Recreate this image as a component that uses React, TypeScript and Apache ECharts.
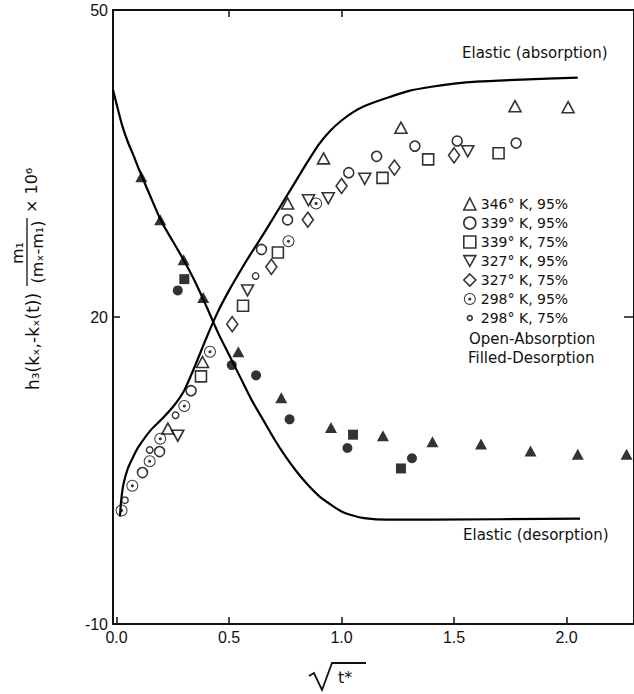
import React, { useEffect, useRef } from "react";
import * as echarts from "echarts";

// ---- data ----
const xTickValues = [0, 0.5, 1.0, 1.5, 2.0];
const yTickValues = [-10, 20, 50];

const legendNames = [
  "346° K, 95%",
  "339° K, 95%",
  "339° K, 75%",
  "327° K, 95%",
  "327° K, 75%",
  "298° K, 95%",
  "298° K, 75%",
];

// open symbols: absorption
const open346_95 = [[0.228, 9.1], [0.382, 15.6], [0.76, 31.1], [0.92, 35.5], [1.264, 38.5], [1.771, 40.6], [2.007, 40.5]];
const open339_95 = [[0.115, 4.8], [0.191, 6.85], [0.331, 12.8], [0.644, 26.6], [0.76, 29.5], [1.032, 34.1], [1.156, 35.7], [1.326, 36.7], [1.514, 37.2], [1.776, 37.0]];
const open339_75 = [[0.375, 14.2], [0.562, 21.1], [0.717, 26.3], [1.182, 33.6], [1.385, 35.4], [1.698, 36.0]];
const open327_95 = [[0.272, 8.4], [0.582, 22.6], [0.853, 31.4], [0.941, 31.6], [1.103, 33.5], [1.561, 36.2]];
const open327_75 = [[0.514, 19.3], [0.688, 24.9], [0.85, 29.5], [1.0, 32.8], [1.235, 34.6], [1.5, 35.8]];
const open298_95 = [[0.022, 1.1], [0.07, 3.5], [0.147, 5.9], [0.194, 8.1], [0.301, 11.3], [0.415, 16.6], [0.764, 27.4], [0.887, 31.1]];
const open298_75 = [[0.037, 2.1], [0.147, 7.0], [0.262, 10.4], [0.618, 24.0]];

// filled symbols: desorption
const filled346_95 = [[0.11, 33.7], [0.194, 29.5], [0.298, 25.6], [0.385, 21.9], [0.541, 16.6], [0.732, 12.1], [0.953, 9.2], [1.184, 8.4], [1.404, 7.8], [1.62, 7.6], [1.84, 6.9], [2.05, 6.6], [2.267, 6.6]];
const filled339_95 = [[0.272, 22.6], [0.512, 15.3], [0.62, 14.3], [0.769, 10.0], [1.026, 7.2], [1.313, 6.2]];
const filled339_75 = [[0.301, 23.7], [1.051, 8.5], [1.264, 5.2]];

// elastic curves
const elasticAbsorption = [[0.015, 0.5], [0.02, 2.0], [0.03, 3.6], [0.05, 5.2], [0.075, 6.4], [0.1, 7.4], [0.15, 8.9], [0.2, 10.0], [0.25, 11.2], [0.3, 12.8], [0.35, 15.3], [0.4, 18.0], [0.45, 20.5], [0.5, 22.6], [0.55, 24.5], [0.6, 26.3], [0.65, 28.0], [0.7, 29.8], [0.75, 31.6], [0.8, 33.4], [0.85, 35.2], [0.9, 36.9], [0.95, 38.2], [1.0, 39.2], [1.05, 40.0], [1.1, 40.6], [1.2, 41.4], [1.3, 42.1], [1.4, 42.5], [1.5, 42.8], [1.6, 43.0], [1.8, 43.2], [2.05, 43.4]];
const elasticDesorption = [[-0.016, 42.2], [0.0, 40.8], [0.025, 38.7], [0.05, 37.1], [0.075, 35.8], [0.1, 34.4], [0.15, 31.8], [0.2, 29.3], [0.25, 27.4], [0.3, 25.5], [0.35, 23.4], [0.4, 21.0], [0.45, 18.5], [0.5, 16.3], [0.55, 14.1], [0.6, 11.9], [0.65, 10.0], [0.7, 8.1], [0.75, 6.4], [0.8, 4.9], [0.85, 3.6], [0.9, 2.5], [0.95, 1.7], [1.0, 1.0], [1.05, 0.6], [1.1, 0.35], [1.2, 0.2], [1.4, 0.2], [2.06, 0.3]];

const DOT_CIRCLE =
  "path://M10,0 A10,10 0 1,1 10,20 A10,10 0 1,1 10,0 Z M10,1.7 A8.3,8.3 0 1,0 10,18.3 A8.3,8.3 0 1,0 10,1.7 Z M10,7.4 A2.6,2.6 0 1,1 10,12.6 A2.6,2.6 0 1,1 10,7.4 Z";
const DOWN_TRI = "path://M0,0 L20,0 L10,18 Z";
const SMALL_CIRCLE_ICON = "path://M0,0 M20,20 M10,6.0 A4,4 0 1,1 10,14 A4,4 0 1,1 10,6.0 Z";

const FONT = '"DejaVu Sans", sans-serif';
const TICKFONT = '"Liberation Sans", Arial, sans-serif';

export default function App() {
  const ref = useRef<HTMLDivElement>(null);
  useEffect(() => {
    if (!ref.current) return;
    const chart = echarts.init(ref.current, null, { renderer: "svg" });
    const openStyle = { color: "#fff", borderColor: "#000", borderWidth: 1.6 };
    const filledStyle = { color: "#000", borderWidth: 0 };
    const scatter = (name: string, data: number[][], symbol: string, size: any, style: any, z = 5) => ({
      type: "scatter",
      name,
      data,
      symbol,
      symbolSize: size,
      itemStyle: style,
      z,
      silent: true,
    });
    const curve = (name: string, data: number[][]) => ({
      type: "line",
      name,
      data,
      showSymbol: false,
      smooth: 0.25,
      lineStyle: { color: "#000", width: 2.2 },
      z: 2,
      silent: true,
    });
    const option: any = {
      animation: false,
      backgroundColor: "#fff",
      grid: { left: 113, right: -4, top: 10, bottom: 70 },
      xAxis: [
        {
          type: "value",
          min: -0.016,
          max: 2.3,
          axisLine: { show: true, onZero: false, lineStyle: { color: "#111", width: 2 } },
          axisTick: { show: true, inside: true, length: 7, customValues: xTickValues, lineStyle: { color: "#111", width: 1.5 } },
          axisLabel: { customValues: xTickValues, formatter: (v: number) => v.toFixed(1), fontSize: 16, fontFamily: TICKFONT, color: "#111", margin: 5 },
          splitLine: { show: false },
        },
        {
          type: "value",
          position: "top",
          min: -0.016,
          max: 2.3,
          axisLine: { show: true, onZero: false, lineStyle: { color: "#111", width: 2 } },
          axisTick: { show: true, inside: true, length: 7, customValues: [0.5, 1.0], lineStyle: { color: "#111", width: 1.5 } },
          axisLabel: { show: false },
          splitLine: { show: false },
        },
      ],
      yAxis: [
        {
          type: "value",
          min: -10,
          max: 50,
          axisLine: { show: true, onZero: false, lineStyle: { color: "#111", width: 2 } },
          axisTick: { show: true, inside: true, length: 7, customValues: yTickValues, lineStyle: { color: "#111", width: 1.5 } },
          axisLabel: { customValues: yTickValues, fontSize: 16, fontFamily: TICKFONT, color: "#111", margin: 5 },
          splitLine: { show: false },
        },
        {
          type: "value",
          position: "right",
          min: -10,
          max: 50,
          axisLine: { show: true, onZero: false, lineStyle: { color: "#111", width: 2 } },
          axisTick: { show: true, inside: true, length: 10, customValues: [20], lineStyle: { color: "#111", width: 1.5 } },
          axisLabel: { show: false },
          splitLine: { show: false },
        },
      ],
      legend: {
        orient: "vertical",
        left: 463,
        top: 197,
        padding: 0,
        itemGap: 5,
        itemWidth: 12,
        itemHeight: 12,
        selectedMode: false,
        textStyle: { fontFamily: FONT, fontSize: 14, color: "#111", lineHeight: 12 },
        itemStyle: { borderWidth: 1.6 },
        data: [
          { name: legendNames[0] },
          { name: legendNames[1] },
          { name: legendNames[2] },
          { name: legendNames[3] },
          { name: legendNames[4] },
          { name: legendNames[5], itemStyle: { borderWidth: 0 } },
          { name: legendNames[6], icon: SMALL_CIRCLE_ICON },
        ],
      },
      series: [
        curve("Elastic (absorption)", elasticAbsorption),
        curve("Elastic (desorption)", elasticDesorption),
        scatter(legendNames[0], open346_95, "triangle", [12, 11], openStyle),
        scatter(legendNames[1], open339_95, "circle", 10, openStyle),
        scatter(legendNames[2], open339_75, "rect", 11, openStyle),
        scatter(legendNames[3], open327_95, DOWN_TRI, [12, 11], openStyle),
        scatter(legendNames[4], open327_75, "diamond", [11, 15], openStyle),
        scatter(legendNames[5], open298_95, DOT_CIRCLE, 12, filledStyle),
        scatter(legendNames[6], open298_75, "circle", 6.5, { color: "#fff", borderColor: "#000", borderWidth: 1.4 }),
        scatter("346° K, 95% desorption", filled346_95, "triangle", [12, 11], filledStyle, 6),
        scatter("339° K, 95% desorption", filled339_95, "circle", 10, filledStyle, 6),
        scatter("339° K, 75% desorption", filled339_75, "rect", 10, filledStyle, 6),
      ],
      graphic: [
        { type: "text", left: 462, top: 45, style: { text: "Elastic (absorption)", font: `15px ${FONT}`, fill: "#111" } },
        { type: "text", left: 463, top: 527, style: { text: "Elastic (desorption)", font: `15px ${FONT}`, fill: "#111" } },
        { type: "text", left: 469, top: 331, style: { text: "Open-Absorption", font: `15px ${FONT}`, fill: "#111" } },
        { type: "text", left: 468, top: 350, style: { text: "Filled-Desorption", font: `15px ${FONT}`, fill: "#111" } },
        {
          type: "polyline",
          shape: { points: [[309, 676], [314, 673], [322, 690], [332, 663], [366, 663]] },
          style: { stroke: "#111", lineWidth: 1.8, fill: null },
        },
        { type: "text", x: 338, y: 677, style: { text: "t*", font: `16px ${FONT}`, fill: "#111", textVerticalAlign: "middle", verticalAlign: "middle" } },
        {
          type: "group",
          x: 33,
          y: 390,
          rotation: Math.PI / 2,
          children: [
            { type: "text", style: { text: "h₃(kₓ,-kₓ(t))", x: 0, y: 0, font: `17px ${FONT}`, fill: "#111", textAlign: "left", align: "left", textVerticalAlign: "middle", verticalAlign: "middle" } },
            { type: "text", style: { text: "m₁", x: 137, y: -16, font: `16px ${FONT}`, fill: "#111", textAlign: "center", align: "center", textVerticalAlign: "middle", verticalAlign: "middle" } },
            { type: "line", shape: { x1: 104, y1: -6, x2: 172, y2: -6 }, style: { stroke: "#111", lineWidth: 1.3 } },
            { type: "text", style: { text: "(mₓ-m₁)", x: 138, y: 4, font: `16px ${FONT}`, fill: "#111", textAlign: "center", align: "center", textVerticalAlign: "middle", verticalAlign: "middle" } },
            { type: "text", style: { text: "× 10⁶", x: 177, y: -2, font: `16px ${FONT}`, fill: "#111", textAlign: "left", align: "left", textVerticalAlign: "middle", verticalAlign: "middle" } },
          ],
        },
      ],
    };
    chart.setOption(option);
    return () => chart.dispose();
  }, []);
  return <div ref={ref} style={{ width: 634, height: 694, position: "absolute", left: 0, top: 0 }} />;
}
